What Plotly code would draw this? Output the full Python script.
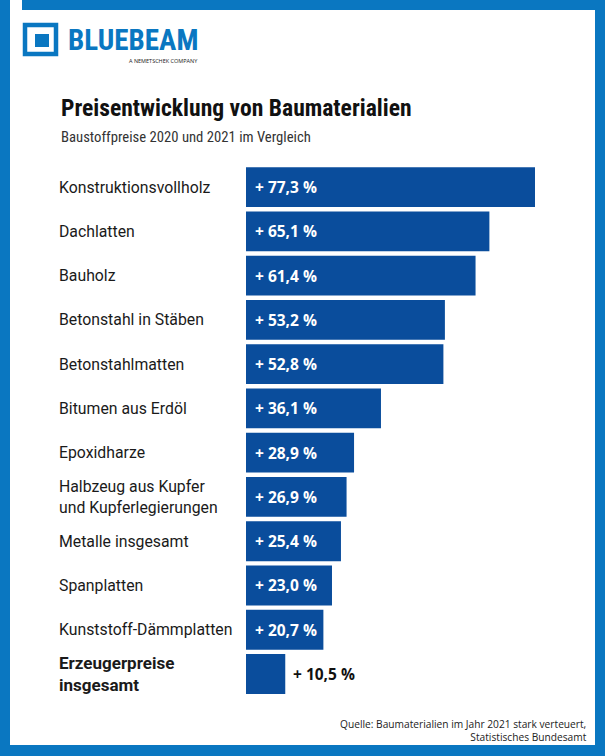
import plotly.graph_objects as go

categories = [
    "Konstruktionsvollholz",
    "Dachlatten",
    "Bauholz",
    "Betonstahl in Stäben",
    "Betonstahlmatten",
    "Bitumen aus Erdöl",
    "Epoxidharze",
    "Halbzeug aus Kupfer<br>und Kupferlegierungen",
    "Metalle insgesamt",
    "Spanplatten",
    "Kunststoff-Dämmplatten",
    "<b>Erzeugerpreise<br>insgesamt</b>",
]
values = [77.3, 65.1, 61.4, 53.2, 52.8, 36.1, 28.9, 26.9, 25.4, 23.0, 20.7, 10.5]
value_labels = ["+ 77,3 %", "+ 65,1 %", "+ 61,4 %", "+ 53,2 %", "+ 52,8 %", "+ 36,1 %",
                "+ 28,9 %", "+ 26,9 %", "+ 25,4 %", "+ 23,0 %", "+ 20,7 %", "+ 10,5 %"]

title = "Preisentwicklung von Baumaterialien"
subtitle = "Baustoffpreise 2020 und 2021 im Vergleich"
source = "Quelle: Baumaterialien im Jahr 2021 stark verteuert,<br>Statistisches Bundesamt"

W, H = 605, 756
L, R, T, B = 246, 11, 165, 59
PW, PH = W - L - R, H - T - B

BAR = "#0a4d9c"
FRAME = "#0a77c1"
SANS = "Open Sans, sans-serif"
LABEL = "Roboto, Open Sans, sans-serif"
COND = "Liberation Sans Narrow, Roboto Condensed, Open Sans Condensed, DejaVu Sans Condensed, Arial Narrow, sans-serif"


def px(x):
    return (x - L) / PW


def py(y):
    return (H - B - y) / PH


fig = go.Figure()
fig.add_trace(go.Bar(
    x=values, y=categories, orientation="h",
    marker=dict(color=BAR, line=dict(width=0)),
    hoverinfo="skip",
))

ann = []
for i, (c, v, lab) in enumerate(zip(categories, values, value_labels)):
    last = i == len(values) - 1
    ann.append(dict(x=px(57), xref="paper", y=c, yref="y", text=c, showarrow=False,
                    xanchor="left", yanchor="middle", align="left",
                    font=dict(family=LABEL, size=17 if last else 15.8, color="#1a1a1a")))
    if not last:
        ann.append(dict(x=0, xref="x", y=c, yref="y", text="<b>" + lab + "</b>", showarrow=False,
                        xanchor="left", yanchor="middle", xshift=7,
                        font=dict(family=SANS, size=15.5, color="white")))
    else:
        ann.append(dict(x=v, xref="x", y=c, yref="y", text="<b>" + lab + "</b>", showarrow=False,
                        xanchor="left", yanchor="middle", xshift=6,
                        font=dict(family=SANS, size=15.5, color="#111111")))

ann += [
    dict(x=px(59), y=py(108), xref="paper", yref="paper", text="<b>" + title + "</b>",
         showarrow=False, xanchor="left", yanchor="middle",
         font=dict(family=COND, size=23.6, color="#111111")),
    dict(x=px(59), y=py(137), xref="paper", yref="paper", text=subtitle,
         showarrow=False, xanchor="left", yanchor="middle",
         font=dict(family=COND, size=14.7, color="#333333")),
    dict(x=px(589), y=py(730), xref="paper", yref="paper", text=source,
         showarrow=False, xanchor="right", yanchor="middle", align="right",
         font=dict(family=SANS, size=10.2, color="#222222")),
    dict(x=px(66), y=py(40), xref="paper", yref="paper", text="<b>BLUEBEAM</b>",
         showarrow=False, xanchor="left", yanchor="middle",
         font=dict(family=COND, size=29, color=FRAME)),
    dict(x=px(200), y=py(61), xref="paper", yref="paper", text="A NEMETSCHEK COMPANY",
         showarrow=False, xanchor="right", yanchor="middle",
         font=dict(family=SANS, size=5.5, color="#222222")),
]

shapes = []


def rect(x0, y0, x1, y1, color, line=None):
    d = dict(type="rect", xref="paper", yref="paper", x0=px(x0), x1=px(x1), y0=py(y1), y1=py(y0),
             layer="above")
    if line:
        d.update(line=dict(color=color, width=line), fillcolor="rgba(0,0,0,0)")
    else:
        d.update(line=dict(width=0), fillcolor=color)
    return d


shapes += [
    rect(0, 0, 10, 756, FRAME),
    rect(22, 0, 605, 10, FRAME),
    rect(595, 0, 605, 756, FRAME),
    rect(0, 745, 605, 756, FRAME),
    # logo icon
    rect(25, 25, 56, 54, FRAME, line=4.5),
    rect(35, 34, 49, 47, FRAME),
]

fig.update_layout(
    width=W, height=H,
    margin=dict(l=L, r=R, t=T, b=B, pad=0),
    paper_bgcolor="white", plot_bgcolor="white",
    bargap=0.1,
    showlegend=False,
    xaxis=dict(range=[0, PW / (289 / 77.3)], visible=False, fixedrange=True),
    yaxis=dict(autorange="reversed", showticklabels=False, showgrid=False, zeroline=False,
               fixedrange=True),
    annotations=ann,
    shapes=shapes,
)

fig.write_html("out.html", config={"displayModeBar": False},
               post_script="document.body.style.margin='0';")
